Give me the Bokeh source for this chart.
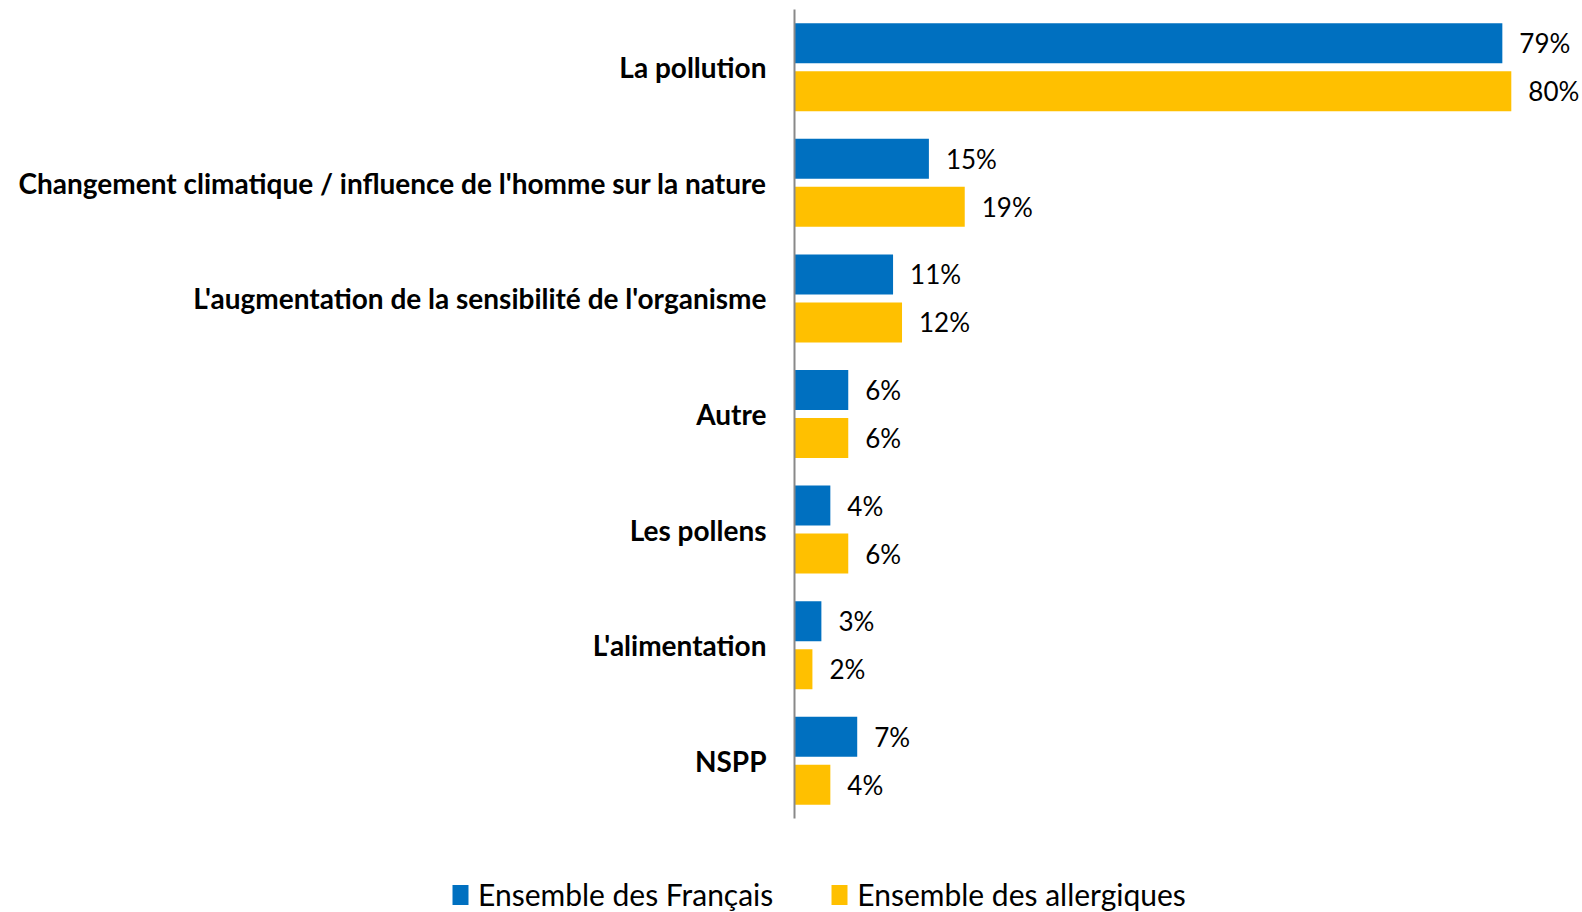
from bokeh.plotting import figure
from bokeh.models import ColumnDataSource, FactorRange, Range1d, Legend, LegendItem
from bokeh.transform import dodge
from bokeh.core.properties import value
from bokeh.embed import file_html
from bokeh.resources import INLINE

categories = ["La pollution",
              "Changement climatique / influence de l'homme sur la nature",
              "L'augmentation de la sensibilité de l'organisme",
              "Autre",
              "Les pollens",
              "L'alimentation",
              "NSPP"]
francais = [79, 15, 11, 6, 4, 3, 7]
allergiques = [80, 19, 12, 6, 6, 2, 4]
series_names = ["Ensemble des Français", "Ensemble des allergiques"]
colors = ["#0070C0", "#FFC000"]

src = ColumnDataSource(dict(
    cat=categories,
    fr=francais,
    al=allergiques,
    fr_lbl=[f"{v}%" for v in francais],
    al_lbl=[f"{v}%" for v in allergiques],
))

W = 1582
H1, H2 = 830, 82
FRAME_L = 794
p = figure(width=W, height=H1, output_backend="svg", toolbar_location=None,
           y_range=FactorRange(factors=categories[::-1]),
           x_range=Range1d(0, (W - FRAME_L) / 8.96))
p.min_border_left = FRAME_L
p.min_border_right = 0
p.min_border_top = 9
p.min_border_bottom = H1 - 818
p.outline_line_color = None
p.xgrid.visible = False
p.ygrid.visible = False
p.xaxis.visible = False

ya = p.yaxis[0]
ya.axis_line_color = "#898989"
ya.axis_line_width = 2
ya.major_tick_line_color = None
ya.minor_tick_line_color = None
ya.major_label_standoff = 22
ya.major_label_text_font = "Lato"
ya.major_label_text_font_style = "bold"
ya.major_label_text_font_size = "28px"
ya.major_label_text_color = "#000000"

off = 0.2076
bh = 0.346
r1 = p.hbar(y=dodge("cat", off, range=p.y_range), right="fr", left=0, height=bh,
            color=colors[0], line_color=None, source=src)
r2 = p.hbar(y=dodge("cat", -off, range=p.y_range), right="al", left=0, height=bh,
            color=colors[1], line_color=None, source=src)

p.text(x="fr", y=dodge("cat", off, range=p.y_range), text="fr_lbl", source=src,
       x_offset=17, text_baseline="middle", text_align="left",
       text_font=value("Lato"), text_font_size="26px", text_color="#000000")
p.text(x="al", y=dodge("cat", -off, range=p.y_range), text="al_lbl", source=src,
       x_offset=17, text_baseline="middle", text_align="left",
       text_font=value("Lato"), text_font_size="26px", text_color="#000000")

# legend strip below the chart (separate root, no frame alignment)
p2 = figure(width=W, height=H2, output_backend="svg", toolbar_location=None,
            x_range=Range1d(0, 1), y_range=Range1d(0, 1),
            min_border_left=0, min_border_right=0, min_border_top=0, min_border_bottom=0)
p2.outline_line_color = None
p2.axis.visible = False
p2.grid.visible = False
l1 = p2.hbar(y=0, right="fr", left=0, height=0.5, color=colors[0], line_color=None,
             source=src, visible=False)
l2 = p2.hbar(y=0, right="al", left=0, height=0.5, color=colors[1], line_color=None,
             source=src, visible=False)

legend = Legend(items=[LegendItem(label=series_names[0], renderers=[l1]),
                       LegendItem(label=series_names[1], renderers=[l2])],
                orientation="horizontal", location=(450, 0),
                padding=0, margin=0, spacing=56, label_standoff=8,
                glyph_width=20, glyph_height=25, label_height=20,
                label_text_font="Lato", label_text_font_size="30px",
                label_text_color="#000000", inactive_fill_alpha=0,
                border_line_color=None, background_fill_alpha=0)
p2.add_layout(legend, "center")

open("out.html", "w").write(file_html([p, p2], INLINE))
